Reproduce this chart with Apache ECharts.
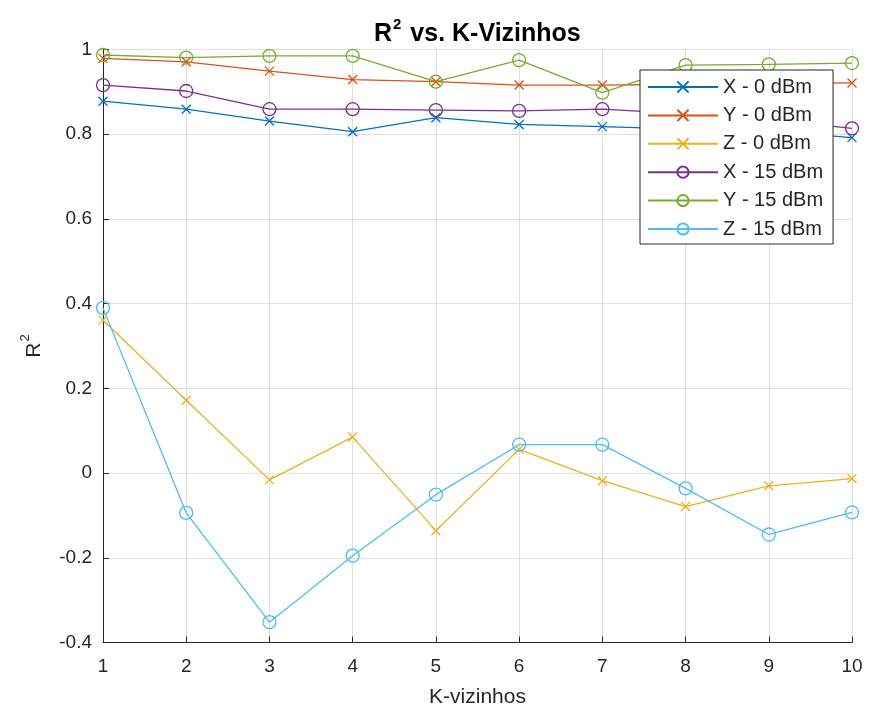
<!DOCTYPE html>
<html>
<head>
<meta charset="utf-8">
<script src="https://cdn.jsdelivr.net/npm/echarts@6/dist/echarts.min.js"></script>
<style>
html,body{margin:0;padding:0;background:#fff;}
#chart{width:869px;height:719px;}
</style>
</head>
<body>
<div id="chart"></div>
<script>
var kVals = [1, 2, 3, 4, 5, 6, 7, 8, 9, 10];
var x0dBm = [0.878, 0.859, 0.831, 0.806, 0.839, 0.823, 0.818, 0.812, 0.808, 0.792];
var y0dBm = [0.979, 0.971, 0.949, 0.929, 0.924, 0.916, 0.916, 0.918, 0.920, 0.921];
var z0dBm = [0.361, 0.172, -0.016, 0.085, -0.136, 0.056, -0.018, -0.079, -0.030, -0.013];
var x15dBm = [0.916, 0.902, 0.859, 0.859, 0.857, 0.855, 0.859, 0.848, 0.835, 0.814];
var y15dBm = [0.987, 0.981, 0.985, 0.985, 0.924, 0.975, 0.898, 0.963, 0.965, 0.968];
var z15dBm = [0.390, -0.094, -0.352, -0.195, -0.051, 0.067, 0.067, -0.036, -0.145, -0.093];
var seriesNames = ['X - 0 dBm', 'Y - 0 dBm', 'Z - 0 dBm', 'X - 15 dBm', 'Y - 15 dBm', 'Z - 15 dBm'];
var seriesColors = ['#0072BD', '#D95319', '#EDB120', '#7E2F8E', '#77AC30', '#4DBEEE'];
var seriesData = [x0dBm, y0dBm, z0dBm, x15dBm, y15dBm, z15dBm];

var FONT = '"Liberation Sans", Arial, Helvetica, sans-serif';
var TXT = '#262626';
var crossPath = 'path://M0,0L10,10M10,0L0,10';

function pairs(arr) {
  return arr.map(function (v, i) { return [kVals[i], v]; });
}

var series = seriesData.map(function (d, i) {
  var isCircle = i >= 3;
  var c = seriesColors[i];
  return {
    name: seriesNames[i],
    type: 'line',
    data: pairs(d),
    symbol: isCircle ? 'circle' : crossPath,
    symbolSize: isCircle ? 13 : 9,
    showAllSymbol: true,
    lineStyle: { color: c, width: 1.3 },
    itemStyle: { color: isCircle ? 'rgba(0,0,0,0)' : c, borderColor: c, borderWidth: 1.3 },
    emphasis: { disabled: true },
    z: 2
  };
});

var chart = echarts.init(document.getElementById('chart'), null, { renderer: 'canvas' });
chart.setOption({
  animation: false,
  backgroundColor: '#fff',
  textStyle: { fontFamily: FONT },
  title: {
    text: '{b|R}{s|2}{b| vs. K-Vizinhos}',
    left: 369,
    top: 12,
    textStyle: {
      rich: {
        b: { fontFamily: FONT, fontSize: 25, fontWeight: 'bold', color: '#000', lineHeight: 34 },
        s: { fontFamily: FONT, fontSize: 15, fontWeight: 'bold', color: '#000', lineHeight: 14, verticalAlign: 'top', padding: [0, 2, 0, 1] }
      }
    }
  },
  grid: { left: 103, right: 17, top: 49.5, bottom: 76.5, containLabel: false },
  legend: {
    orient: 'vertical',
    left: 640,
    top: 70,
    z: 20,
    padding: [7, 10, 5, 7],
    itemWidth: 70,
    itemHeight: 14,
    itemGap: 8.4,
    backgroundColor: '#fff',
    borderColor: '#262626',
    borderWidth: 1,
    textStyle: { fontFamily: FONT, fontSize: 20, color: TXT, lineHeight: 20 },
    data: seriesNames
  },
  xAxis: {
    type: 'value',
    min: 1,
    max: 10,
    interval: 1,
    name: 'K-vizinhos',
    nameLocation: 'middle',
    nameGap: 44,
    nameTextStyle: { fontFamily: FONT, fontSize: 21, color: TXT },
    axisLine: { show: true, onZero: false, lineStyle: { color: TXT, width: 1 } },
    axisTick: { show: true, inside: true, length: 6, lineStyle: { color: TXT } },
    axisLabel: { fontFamily: FONT, fontSize: 19, color: TXT, margin: 15 },
    splitLine: { show: true, lineStyle: { color: '#dfdfdf', width: 1 } }
  },
  yAxis: {
    type: 'value',
    min: -0.4,
    max: 1,
    interval: 0.2,
    name: '{a|R}{s|2}',
    nameLocation: 'middle',
    nameGap: 54,
    nameTextStyle: {
      rich: {
        a: { fontFamily: FONT, fontSize: 21, color: TXT, lineHeight: 30 },
        s: { fontFamily: FONT, fontSize: 13, color: TXT, lineHeight: 12, verticalAlign: 'top', padding: [0, 0, 0, 1] }
      }
    },
    axisLine: { show: true, onZero: false, lineStyle: { color: TXT, width: 1 } },
    axisTick: { show: true, inside: true, length: 6, lineStyle: { color: TXT } },
    axisLabel: {
      fontFamily: FONT, fontSize: 19, color: TXT, margin: 11,
      formatter: function (v) { return String(Math.round(v * 10) / 10); }
    },
    splitLine: { show: true, lineStyle: { color: '#dfdfdf', width: 1 } }
  },
  series: series
});
</script>
</body>
</html>
